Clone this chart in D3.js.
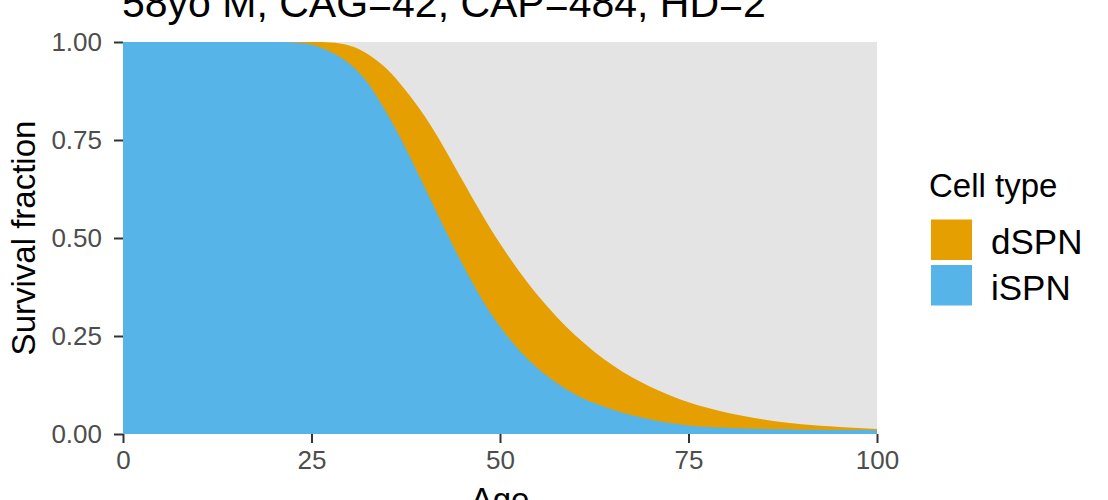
<!DOCTYPE html>
<html>
<head>
<meta charset="utf-8">
<script src="https://cdn.jsdelivr.net/npm/d3@7"></script>
<style>
  html, body { margin: 0; padding: 0; background: #fff; }
  svg { display: block; font-family: "Liberation Sans", Arial, Helvetica, sans-serif; }
</style>
</head>
<body>
<svg id="chart" width="1108" height="500"></svg>
<script>
// ---- data ----
const titleText = "58yo M, CAG=42, CAP=484, HD=2";
const ages = [0,2.5,5,7.5,10,12.5,15,17.5,20,22.5,25,27.5,30,32.5,35,37.5,40,42.5,45,47.5,50,
              52.5,55,57.5,60,62.5,65,67.5,70,72.5,75,77.5,80,82.5,85,87.5,90,92.5,95,97.5,100];
const dSPN = [1,1,1,1,1,1,1,1,1,1,1,0.999,0.991,0.969,0.931,0.876,0.811,0.733,0.648,0.564,0.486,
              0.416,0.354,0.299,0.251,0.210,0.175,0.145,0.120,0.099,0.081,0.067,0.055,0.045,0.037,0.030,0.025,0.021,0.018,0.015,0.013];
const iSPN = [1,1,1,1,1,1,1,1,1,0.999,0.993,0.975,0.945,0.895,0.818,0.729,0.630,0.530,0.434,0.347,0.274,
              0.215,0.168,0.131,0.101,0.079,0.062,0.048,0.037,0.028,0.022,0.018,0.016,0.014,0.013,0.012,0.011,0.011,0.010,0.010,0.009];
const cellTypes = ["dSPN", "iSPN"];
const colors = ["#E69F00", "#56B4E9"];
const xTicks = [0, 25, 50, 75, 100];
const yTicks = [0, 0.25, 0.5, 0.75, 1];

// ---- layout ----
const svg = d3.select("#chart");
const P = {left: 123, right: 877, top: 42, bottom: 434};
const x = d3.scaleLinear().domain([0, 100]).range([P.left, P.right]);
const y = d3.scaleLinear().domain([0, 1]).range([P.bottom, P.top]);
const color = d3.scaleOrdinal().domain(cellTypes).range(colors);

// panel background
svg.append("rect")
  .attr("x", P.left).attr("y", P.top)
  .attr("width", P.right - P.left).attr("height", P.bottom - P.top)
  .attr("fill", "#E4E4E4");

const series = {dSPN: dSPN, iSPN: iSPN};
const area = d3.area()
  .x(d => x(d[0]))
  .y0(y(0))
  .y1(d => y(d[1]))
  .curve(d3.curveMonotoneX);

cellTypes.forEach(ct => {
  const pts = ages.map((a, i) => [a, series[ct][i]]);
  svg.append("path")
    .datum(pts)
    .attr("d", area)
    .attr("fill", color(ct));
});

// axes
const yAxis = svg.append("g")
  .attr("transform", `translate(${P.left},0)`)
  .call(d3.axisLeft(y).tickValues(yTicks).tickFormat(d3.format(".2f")).tickSize(9).tickPadding(12));
const xAxis = svg.append("g")
  .attr("transform", `translate(0,${P.bottom})`)
  .call(d3.axisBottom(x).tickValues(xTicks).tickFormat(d3.format("d")).tickSize(9).tickPadding(8));
[yAxis, xAxis].forEach(g => {
  g.select(".domain").remove();
  g.selectAll(".tick line").attr("stroke", "#333333").attr("stroke-width", 2);
  g.selectAll(".tick text").attr("fill", "#4D4D4D")
    .style("font-size", "26px").style("font-family", "'Liberation Sans', Arial, sans-serif");
});

// title
svg.append("text")
  .attr("x", 122).attr("y", 17)
  .attr("fill", "#000")
  .style("font-size", "41px")
  .text(titleText);

// axis titles
svg.append("text")
  .attr("x", (P.left + P.right) / 2).attr("y", 511)
  .attr("text-anchor", "middle")
  .style("font-size", "33px")
  .text("Age");
svg.append("text")
  .attr("transform", `translate(35,${(P.top + P.bottom) / 2}) rotate(-90)`)
  .attr("text-anchor", "middle")
  .style("font-size", "33px")
  .text("Survival fraction");

// legend
const lg = svg.append("g");
lg.append("text")
  .attr("x", 929).attr("y", 197)
  .style("font-size", "33px")
  .text("Cell type");
cellTypes.forEach((ct, i) => {
  const ky = 219.5 + i * 45.5;
  lg.append("rect")
    .attr("x", 931).attr("y", ky)
    .attr("width", 41).attr("height", 40.5)
    .attr("fill", color(ct));
  lg.append("text")
    .attr("x", 991).attr("y", ky + 34.5)
    .style("font-size", "35px")
    .text(ct);
});
</script>
</body>
</html>
